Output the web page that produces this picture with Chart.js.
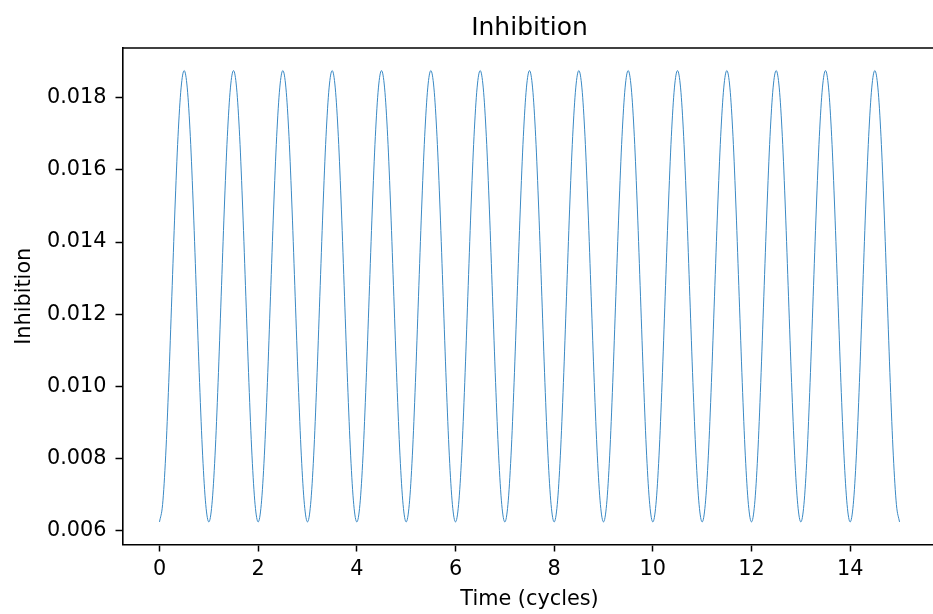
<!DOCTYPE html>
<html>
<head>
<meta charset="utf-8">
<script src="https://cdn.jsdelivr.net/npm/chart.js@4/dist/chart.umd.min.js"></script>
<style>
html,body{margin:0;padding:0;background:#fff;overflow:hidden;}
#wrap{width:933px;height:614px;overflow:hidden;position:relative;}
canvas{display:block;}
</style>
</head>
<body>
<div id="wrap"><canvas id="c" width="960" height="614"></canvas></div>
<script>
const chartTitle = "Inhibition";
const xAxisTitle = "Time (cycles)";
const yAxisTitle = "Inhibition";
const xTickValues = [0, 2, 4, 6, 8, 10, 12, 14];
const yTickValues = [0.006, 0.008, 0.010, 0.012, 0.014, 0.016, 0.018];

const times = [
0,0.0625,0.125,0.1875,0.25,0.3125,0.375,0.4375,0.5,0.5625,0.625,0.6875,0.75,0.8125,0.875,0.9375,
1,1.0625,1.125,1.1875,1.25,1.3125,1.375,1.4375,1.5,1.5625,1.625,1.6875,1.75,1.8125,1.875,1.9375,
2,2.0625,2.125,2.1875,2.25,2.3125,2.375,2.4375,2.5,2.5625,2.625,2.6875,2.75,2.8125,2.875,2.9375,
3,3.0625,3.125,3.1875,3.25,3.3125,3.375,3.4375,3.5,3.5625,3.625,3.6875,3.75,3.8125,3.875,3.9375,
4,4.0625,4.125,4.1875,4.25,4.3125,4.375,4.4375,4.5,4.5625,4.625,4.6875,4.75,4.8125,4.875,4.9375,
5,5.0625,5.125,5.1875,5.25,5.3125,5.375,5.4375,5.5,5.5625,5.625,5.6875,5.75,5.8125,5.875,5.9375,
6,6.0625,6.125,6.1875,6.25,6.3125,6.375,6.4375,6.5,6.5625,6.625,6.6875,6.75,6.8125,6.875,6.9375,
7,7.0625,7.125,7.1875,7.25,7.3125,7.375,7.4375,7.5,7.5625,7.625,7.6875,7.75,7.8125,7.875,7.9375,
8,8.0625,8.125,8.1875,8.25,8.3125,8.375,8.4375,8.5,8.5625,8.625,8.6875,8.75,8.8125,8.875,8.9375,
9,9.0625,9.125,9.1875,9.25,9.3125,9.375,9.4375,9.5,9.5625,9.625,9.6875,9.75,9.8125,9.875,9.9375,
10,10.0625,10.125,10.1875,10.25,10.3125,10.375,10.4375,10.5,10.5625,10.625,10.6875,10.75,10.8125,10.875,10.9375,
11,11.0625,11.125,11.1875,11.25,11.3125,11.375,11.4375,11.5,11.5625,11.625,11.6875,11.75,11.8125,11.875,11.9375,
12,12.0625,12.125,12.1875,12.25,12.3125,12.375,12.4375,12.5,12.5625,12.625,12.6875,12.75,12.8125,12.875,12.9375,
13,13.0625,13.125,13.1875,13.25,13.3125,13.375,13.4375,13.5,13.5625,13.625,13.6875,13.75,13.8125,13.875,13.9375,
14,14.0625,14.125,14.1875,14.25,14.3125,14.375,14.4375,14.5,14.5625,14.625,14.6875,14.75,14.8125,14.875,14.9375,
15];

const inhibition = [
0.00625,0.00673,0.00808,0.01011,0.0125,0.01489,0.01692,0.01827,0.01875,0.01827,0.01692,0.01489,0.0125,0.01011,0.00808,0.00673,
0.00625,0.00673,0.00808,0.01011,0.0125,0.01489,0.01692,0.01827,0.01875,0.01827,0.01692,0.01489,0.0125,0.01011,0.00808,0.00673,
0.00625,0.00673,0.00808,0.01011,0.0125,0.01489,0.01692,0.01827,0.01875,0.01827,0.01692,0.01489,0.0125,0.01011,0.00808,0.00673,
0.00625,0.00673,0.00808,0.01011,0.0125,0.01489,0.01692,0.01827,0.01875,0.01827,0.01692,0.01489,0.0125,0.01011,0.00808,0.00673,
0.00625,0.00673,0.00808,0.01011,0.0125,0.01489,0.01692,0.01827,0.01875,0.01827,0.01692,0.01489,0.0125,0.01011,0.00808,0.00673,
0.00625,0.00673,0.00808,0.01011,0.0125,0.01489,0.01692,0.01827,0.01875,0.01827,0.01692,0.01489,0.0125,0.01011,0.00808,0.00673,
0.00625,0.00673,0.00808,0.01011,0.0125,0.01489,0.01692,0.01827,0.01875,0.01827,0.01692,0.01489,0.0125,0.01011,0.00808,0.00673,
0.00625,0.00673,0.00808,0.01011,0.0125,0.01489,0.01692,0.01827,0.01875,0.01827,0.01692,0.01489,0.0125,0.01011,0.00808,0.00673,
0.00625,0.00673,0.00808,0.01011,0.0125,0.01489,0.01692,0.01827,0.01875,0.01827,0.01692,0.01489,0.0125,0.01011,0.00808,0.00673,
0.00625,0.00673,0.00808,0.01011,0.0125,0.01489,0.01692,0.01827,0.01875,0.01827,0.01692,0.01489,0.0125,0.01011,0.00808,0.00673,
0.00625,0.00673,0.00808,0.01011,0.0125,0.01489,0.01692,0.01827,0.01875,0.01827,0.01692,0.01489,0.0125,0.01011,0.00808,0.00673,
0.00625,0.00673,0.00808,0.01011,0.0125,0.01489,0.01692,0.01827,0.01875,0.01827,0.01692,0.01489,0.0125,0.01011,0.00808,0.00673,
0.00625,0.00673,0.00808,0.01011,0.0125,0.01489,0.01692,0.01827,0.01875,0.01827,0.01692,0.01489,0.0125,0.01011,0.00808,0.00673,
0.00625,0.00673,0.00808,0.01011,0.0125,0.01489,0.01692,0.01827,0.01875,0.01827,0.01692,0.01489,0.0125,0.01011,0.00808,0.00673,
0.00625,0.00673,0.00808,0.01011,0.0125,0.01489,0.01692,0.01827,0.01875,0.01827,0.01692,0.01489,0.0125,0.01011,0.00808,0.00673,
0.00625];

const FONT = "'DejaVu Sans', sans-serif";
const points = times.map((t, i) => ({x: t, y: inhibition[i]}));

const framePlugin = {
  id: 'frame',
  afterDraw(chart) {
    const {ctx, chartArea: a} = chart;
    ctx.save();
    ctx.strokeStyle = '#000';
    ctx.lineWidth = 1.6;
    ctx.beginPath();
    ctx.moveTo(a.left, a.top);
    ctx.lineTo(chart.width, a.top);
    ctx.stroke();
    ctx.fillStyle = '#000';
    ctx.font = "25px " + FONT;
    ctx.textAlign = 'center';
    ctx.textBaseline = 'alphabetic';
    ctx.fillText(chartTitle, (a.left + a.right) / 2, 35);
    ctx.restore();
  }
};

new Chart(document.getElementById('c'), {
  type: 'line',
  data: {
    datasets: [{
      data: points,
      borderColor: '#3a89c4',
      borderWidth: 1,
      pointRadius: 0,
      fill: false,
      cubicInterpolationMode: 'monotone'
    }]
  },
  options: {
    responsive: false,
    animation: false,
    layout: {padding: {top: 48, right: 23.5, left: 0, bottom: 0}},
    plugins: {legend: {display: false}, tooltip: {enabled: false}, title: {display: false}},
    scales: {
      x: {
        type: 'linear',
        min: -0.75, max: 15.75,
        afterBuildTicks: s => { s.ticks = xTickValues.map(v => ({value: v})); },
        afterFit: s => { s.height = 69.5; },
        grid: {drawOnChartArea: false, drawTicks: true, tickLength: 7, tickColor: '#000', tickWidth: 1.5},
        border: {display: true, color: '#000', width: 1.6},
        ticks: {color: '#000', font: {family: FONT, size: 20.8}, padding: 6, maxRotation: 0, autoSkip: false,
                callback: v => String(v)},
        title: {display: true, text: xAxisTitle, color: '#000', font: {family: FONT, size: 20.8}, padding: {top: 0, bottom: 2}}
      },
      y: {
        type: 'linear',
        min: 0.005625, max: 0.019375,
        afterBuildTicks: s => { s.ticks = yTickValues.map(v => ({value: v})); },
        afterFit: s => { s.width = 122.5; },
        grid: {drawOnChartArea: false, drawTicks: true, tickLength: 7, tickColor: '#000', tickWidth: 1.5},
        border: {display: true, color: '#000', width: 1.6},
        ticks: {color: '#000', font: {family: FONT, size: 20.8}, padding: 9, autoSkip: false,
                callback: v => Number(v).toFixed(3)},
        title: {display: true, text: yAxisTitle, color: '#000', font: {family: FONT, size: 20.8}, padding: {top: 12, bottom: 0}}
      }
    }
  },
  plugins: [framePlugin]
});
</script>
</body>
</html>
